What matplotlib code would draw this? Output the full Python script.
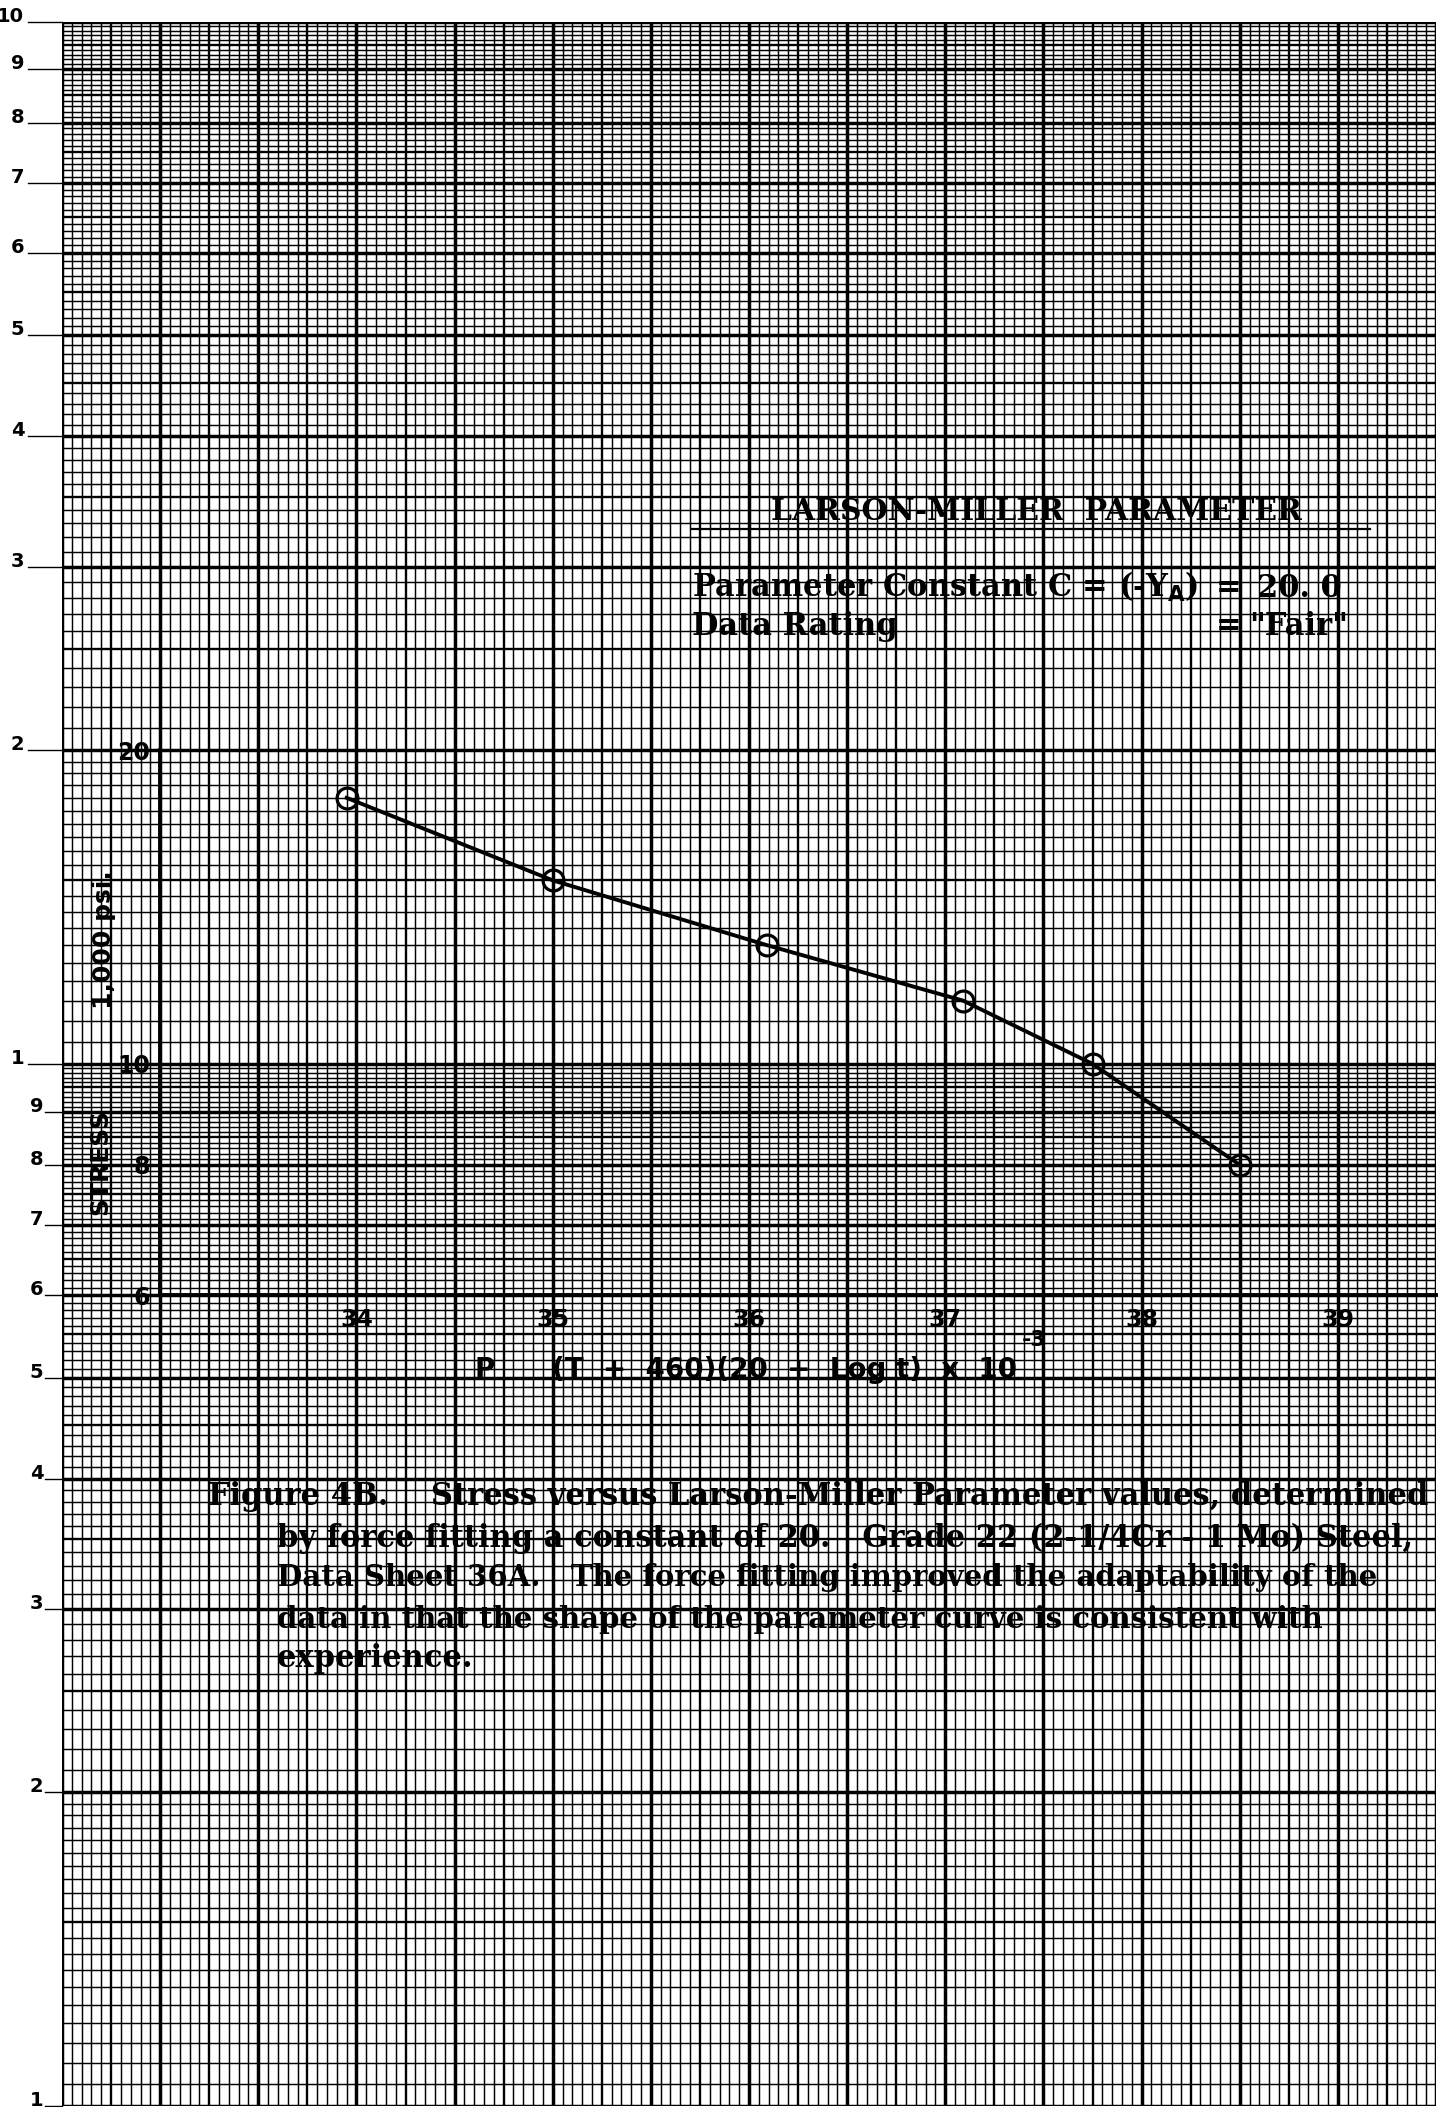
import matplotlib.pyplot as plt
import numpy as np
from matplotlib.ticker import NullLocator

# Larson-Miller parameter P = (T + 460)(20 + log t) x 10^-3 vs. stress (1000 psi)
lmp = [33.95, 35.0, 36.09, 37.09, 37.75, 38.5]
stress = [18.0, 15.0, 13.0, 11.5, 10.0, 8.0]

x_ticks = [34, 35, 36, 37, 38, 39]
y_ticks = [6, 7, 8, 9, 10, 20]
y_tick_labels = ["6", "", "8", "", "10", "20"]

# printed scale on the left edge of the 2-cycle semi-log paper
upper_labels = ["10", "9", "8", "7", "6", "5", "4", "3", "2", "1"]
upper_values = [100, 90, 80, 70, 60, 50, 40, 30, 20, 10]
lower_labels = ["9", "8", "7", "6", "5", "4", "3", "2", "1"]
lower_values = [9, 8, 7, 6, 5, 4, 3, 2, 1]

caption = [
    "Figure 4B.    Stress versus Larson-Miller Parameter values, determined",
    "by force fitting a constant of 20.   Grade 22 (2-1/4Cr - 1 Mo) Steel,",
    "Data Sheet 36A.   The force fitting improved the adaptability of the",
    "data in that the shape of the parameter curve is consistent with",
    "experience.",
]

W, H = 1446, 2107


def fx(px):
    return px / W


def fy(py):
    return 1 - py / H


fig = plt.figure(figsize=(W / 100, H / 100), dpi=100)
fig.patch.set_facecolor("white")

# the graph paper itself
ax = fig.add_axes([fx(62), fy(2106), fx(1436) - fx(62), fy(21.7) - fy(2106)])
ax.set_yscale("log")
ax.set_xlim(32.5, 39.5)
ax.set_ylim(1, 100)
ax.set_axis_off()

# vertical rulings: 14 columns, 10 divisions each
for k in range(141):
    xv = 32.5 + 0.05 * k
    if k % 10 == 0:
        lw = 2.5
    elif k % 5 == 0:
        lw = 1.7
    else:
        lw = 1.05
    ax.axvline(xv, color="black", lw=lw, zorder=1)

# horizontal rulings of the log cycles
fine = np.round(np.concatenate([np.arange(1, 2, 0.05), np.arange(2, 10, 0.1)]), 3)
for dec in [1, 10]:
    for v in fine:
        if abs(v - round(v)) < 1e-6:
            lw = 2.5
        elif abs(v * 2 - round(v * 2)) < 1e-6:
            lw = 1.7
        else:
            lw = 1.05
        ax.axhline(v * dec, color="black", lw=lw, zorder=1)
ax.axhline(100, color="black", lw=2.5, zorder=1)

ytr = ax.get_yaxis_transform()
for lab, val in zip(upper_labels, upper_values):
    ax.plot([-0.0247, 0], [val, val], color="black", lw=1.0, transform=ytr, clip_on=False)
    ax.text(-0.0275, val, lab, transform=ytr, ha="right", va="baseline",
            fontsize=14, fontweight="bold", family="DejaVu Sans")
for lab, val in zip(lower_labels, lower_values):
    ax.plot([-0.0125, 0], [val, val], color="black", lw=1.0, transform=ytr, clip_on=False)
    ax.text(-0.0135, val, lab, transform=ytr, ha="right", va="baseline",
            fontsize=14, fontweight="bold", family="DejaVu Sans")

# the stress plot drawn onto the paper, sharing its scales
inv = fig.transFigure.inverted()
x0, y0 = inv.transform(ax.transData.transform((33, 6)))
x1, y1 = inv.transform(ax.transData.transform((39.5, 20)))
ax2 = fig.add_axes([x0, y0, x1 - x0, y1 - y0])
ax2.set_facecolor("none")
ax2.set_yscale("log")
ax2.set_xlim(33, 39.5)
ax2.set_ylim(6, 20)
for side in ["top", "right"]:
    ax2.spines[side].set_visible(False)
for side in ["left", "bottom"]:
    ax2.spines[side].set_linewidth(2.8)
ax2.yaxis.set_minor_locator(NullLocator())
ax2.set_xticks(x_ticks)
ax2.set_xticklabels([str(t) for t in x_ticks])
ax2.set_yticks(y_ticks)
ax2.set_yticklabels(y_tick_labels)
ax2.tick_params(axis="x", direction="in", length=11, width=1.8, pad=9,
                labelsize=17)
ax2.tick_params(axis="y", direction="in", length=12, width=1.8, pad=7,
                labelsize=17)
for t in ax2.get_xticklabels() + ax2.get_yticklabels():
    t.set_fontweight("bold")

ax2.plot(lmp, stress, color="black", lw=2.8, marker="o", markersize=15,
         markerfacecolor="none", markeredgecolor="black", markeredgewidth=2.3)

fig.text(fx(100), fy(1162), "STRESS", rotation=90, ha="center", va="center",
         fontsize=18, fontweight="bold")
fig.text(fx(104), fy(940), "1,000 psi.", rotation=90, ha="center", va="center",
         fontsize=18, fontweight="bold")

fig.text(fx(485), fy(1370), "P", ha="center", va="center", fontsize=20, fontweight="bold")
fig.text(fx(552), fy(1370), "(T  +  460)(20  +  Log t)  x  10", ha="left", va="center",
         fontsize=20, fontweight="bold")
fig.text(fx(1022), fy(1340), "-3", ha="left", va="center", fontsize=16, fontweight="bold")

# title block
serif = "DejaVu Serif"
fig.text(fx(771), fy(520), "LARSON-MILLER  PARAMETER", ha="left", va="baseline",
         fontsize=21.5, fontweight="bold", family=serif)
fig.add_artist(plt.Line2D([fx(692), fx(1370)], [fy(529), fy(529)], color="black", lw=1.6))
fig.text(fx(692), fy(597), "Parameter Constant C = (-Y$_\\mathbf{A}$)", ha="left",
         va="baseline", fontsize=22, fontweight="bold", family=serif)
fig.text(fx(1216), fy(597), "=", ha="left", va="baseline", fontsize=22,
         fontweight="bold", family=serif)
fig.text(fx(1257), fy(597), "20. 0", ha="left", va="baseline", fontsize=22,
         fontweight="bold", family=serif)
fig.text(fx(692), fy(635), "Data Rating", ha="left", va="baseline", fontsize=22,
         fontweight="bold", family=serif)
fig.text(fx(1216), fy(635), "=", ha="left", va="baseline", fontsize=22,
         fontweight="bold", family=serif)
fig.text(fx(1249), fy(635), "\"Fair\"", ha="left", va="baseline", fontsize=22,
         fontweight="bold", family=serif)

# caption, sized per line to keep the typed line lengths
baselines = [1505, 1547, 1586, 1628, 1667]
sizes = [22, 22, 21, 21, 22]
for i, line in enumerate(caption):
    left = 208 if i == 0 else 277
    fig.text(fx(left), fy(baselines[i]), line, ha="left", va="baseline",
             fontsize=sizes[i], fontweight="bold", family=serif)

fig.savefig("out.png", dpi=100)
